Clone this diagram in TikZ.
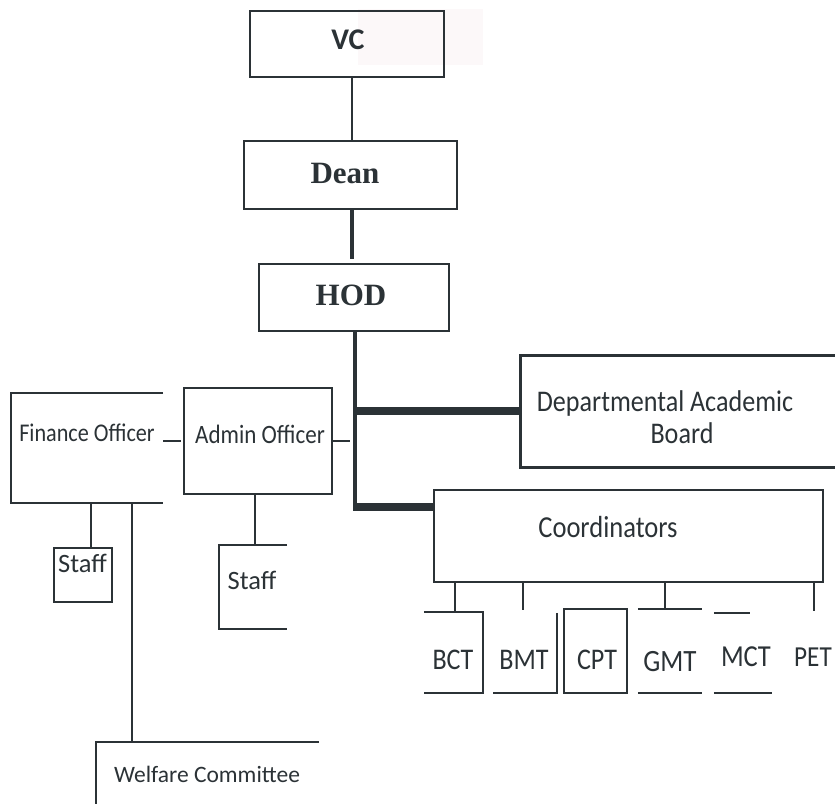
\documentclass[tikz,border=0pt]{standalone}
\usepackage{fontspec}
\setmainfont{Liberation Serif}
\newfontfamily\calfont{Carlito}
\newfontfamily\calnarrow[FakeStretch=0.87]{Carlito}
\definecolor{ink}{HTML}{2B3236}
\definecolor{faint}{HTML}{FCF8F9}
\begin{document}
\begin{tikzpicture}[x=1pt,y=-1pt,
  box/.style={draw=ink, line width=2pt, inner sep=0pt, anchor=center},
  ghost/.style={draw=none, inner sep=0pt, anchor=center},
  border/.style={draw=ink, line width=1.7pt},
  conn/.style={draw=ink, line width=1.7pt},
  thickconn/.style={draw=ink, line width=4pt},
  heavyconn/.style={draw=ink, line width=8.5pt},
  lbl/.style={text=ink, inner sep=0pt, anchor=base},
  serifbig/.style={lbl, font=\fontsize{31}{36}\selectfont\bfseries},
  sansbig/.style={lbl, font=\calfont\fontsize{30}{36}\selectfont\bfseries},
  narrow/.style={lbl, font=\calnarrow\fontsize{#1}{#1}\selectfont},
  plain/.style={lbl, font=\calfont\fontsize{#1}{#1}\selectfont}
]
\useasboundingbox (0,0) rectangle (835,803);
\fill[faint] (358,9) rectangle (483,65);

% top chain
\node[box, minimum width=194pt, minimum height=66pt] (vc) at (347,44) {};
\node[box, minimum width=213pt, minimum height=68pt] (dean) at (350.5,175) {};
\node[box, minimum width=190pt, minimum height=67pt] (hod) at (354,297.5) {};
\node[sansbig] (vct) at (348,49) {VC};
\node[serifbig] (deant) at (345,183) {Dean};
\node[serifbig] (hodt) at (351,305) {HOD};

% left side
\node[ghost, minimum width=152pt, minimum height=110pt] (fo) at (87,448) {};
\node[box, line width=1.7pt, minimum width=148pt, minimum height=106pt] (ao) at (258,441) {};
\node[box, line width=1.7pt, minimum width=58pt, minimum height=54pt] (staff1) at (83,575) {};
\node[ghost, minimum width=68pt, minimum height=84pt] (staff2) at (253,587) {};
\node[ghost, minimum width=223pt, minimum height=100pt] (welfare) at (207.5,792) {};
\node[narrow=25.5] (fot) at (87,441) {Finance Officer};
\node[narrow=26.5] (aot) at (260,443) {Admin Officer};
\node[plain=26.5] (s1t) at (82.5,572) {Staff};
\node[plain=26.5] (s2t) at (252,589) {Staff};
\node[plain=23.5] (wt) at (207,782) {Welfare Committee};

% right side
\node[ghost, minimum width=314pt, minimum height=111pt] (dab) at (678,411.5) {};
\node[box, minimum width=389pt, minimum height=92pt] (coord) at (628.5,536) {};
\node[narrow=30] (dabt1) at (665,411) {Departmental Academic};
\node[narrow=30] (dabt2) at (682,443) {Board};
\node[narrow=30.5] (coordt) at (608,537) {Coordinators};

% programme boxes
\node[ghost, minimum width=59pt, minimum height=81pt] (bct) at (453.5,652.5) {};
\node[ghost, minimum width=64pt, minimum height=80pt] (bmt) at (525,653) {};
\node[box, line width=1.7pt, minimum width=63pt, minimum height=84pt] (cpt) at (595.5,651) {};
\node[ghost, minimum width=64pt, minimum height=84pt] (gmt) at (670,651) {};
\node[ghost, minimum width=58pt, minimum height=80pt] (mct) at (743,653) {};
\node[ghost, minimum width=40pt, minimum height=82pt] (pet) at (813,651) {};
\node[narrow=30] (bctt) at (453,669) {BCT};
\node[narrow=30] (bmtt) at (524,669) {BMT};
\node[narrow=30] (cptt) at (597,669) {CPT};
\node[narrow=31] (gmtt) at (670,671) {GMT};
\node[narrow=30.5] (mctt) at (746,666) {MCT};
\node[narrow=29] (pett) at (813,666) {PET};

% partial borders
\draw[border] (fo.north east) -- (fo.north west) -- (fo.south west) -- (fo.south east);
\draw[border] (staff2.north east) -- (staff2.north west) -- (staff2.south west) -- (staff2.south east);
\draw[border] (welfare.north east) -- (welfare.north west) -- ++(0,62);
\draw[draw=ink, line width=3pt] (dab.north east) -- (dab.north west) -- (dab.south west) -- (dab.south east);
\draw[border] (bct.north west) -- (bct.north east) -- (bct.south east) -- (bct.south west);
\draw[border] (bmt.north east) -- (bmt.south east) -- (bmt.south west);
\draw[border] (gmt.north west) -- (gmt.north east);
\draw[border] (gmt.south west) -- (gmt.south east);
\draw[border] (mct.north west) -- ++(36,0);
\draw[border] (mct.south west) -- (mct.south east);

% reference coordinates for connector lines
\coordinate (ax1) at (352,0);
\coordinate (ax2) at (355,0);
\coordinate (cj) at (353,507);
\coordinate (dj) at (353,411);
\coordinate (aoend) at (350,441);
\coordinate (s1x) at (91,0);
\coordinate (wx) at (132,0);
\coordinate (s2x) at (255,0);
\coordinate (bctx) at (455,0);
\coordinate (bmtx) at (523,0);
\coordinate (gmtx) at (665,0);
\coordinate (petx) at (814,0);

% connectors
\draw[conn] (vc.south -| ax1) -- (dean.north -| ax1);
\draw[thickconn, shorten >=4pt] (dean.south -| ax1) -- (hod.north -| ax1);
\draw[thickconn] (hod.south -| ax2) -- (ax2 |- cj);
\draw[heavyconn] (dj) -- (dab.west |- dj);
\draw[heavyconn] (cj) -- (coord.west |- cj);
\draw[conn] (ao.east) -- (aoend);
\draw[conn, shorten >=2pt] (fo.east |- ao.west) -- (ao.west);
\draw[conn] (fo.south -| s1x) -- (staff1.north -| s1x);
\draw[conn] (fo.south -| wx) -- (welfare.north -| wx);
\draw[conn] (ao.south -| s2x) -- (staff2.north -| s2x);
\draw[conn] (coord.south -| bctx) -- (bct.north -| bctx);
\draw[conn, shorten >=3pt] (coord.south -| bmtx) -- (bmt.north -| bmtx);
\draw[conn] (coord.south -| gmtx) -- (gmt.north -| gmtx);
\draw[conn, shorten >=-1pt] (coord.south -| petx) -- (pet.north -| petx);
\end{tikzpicture}
\end{document}
